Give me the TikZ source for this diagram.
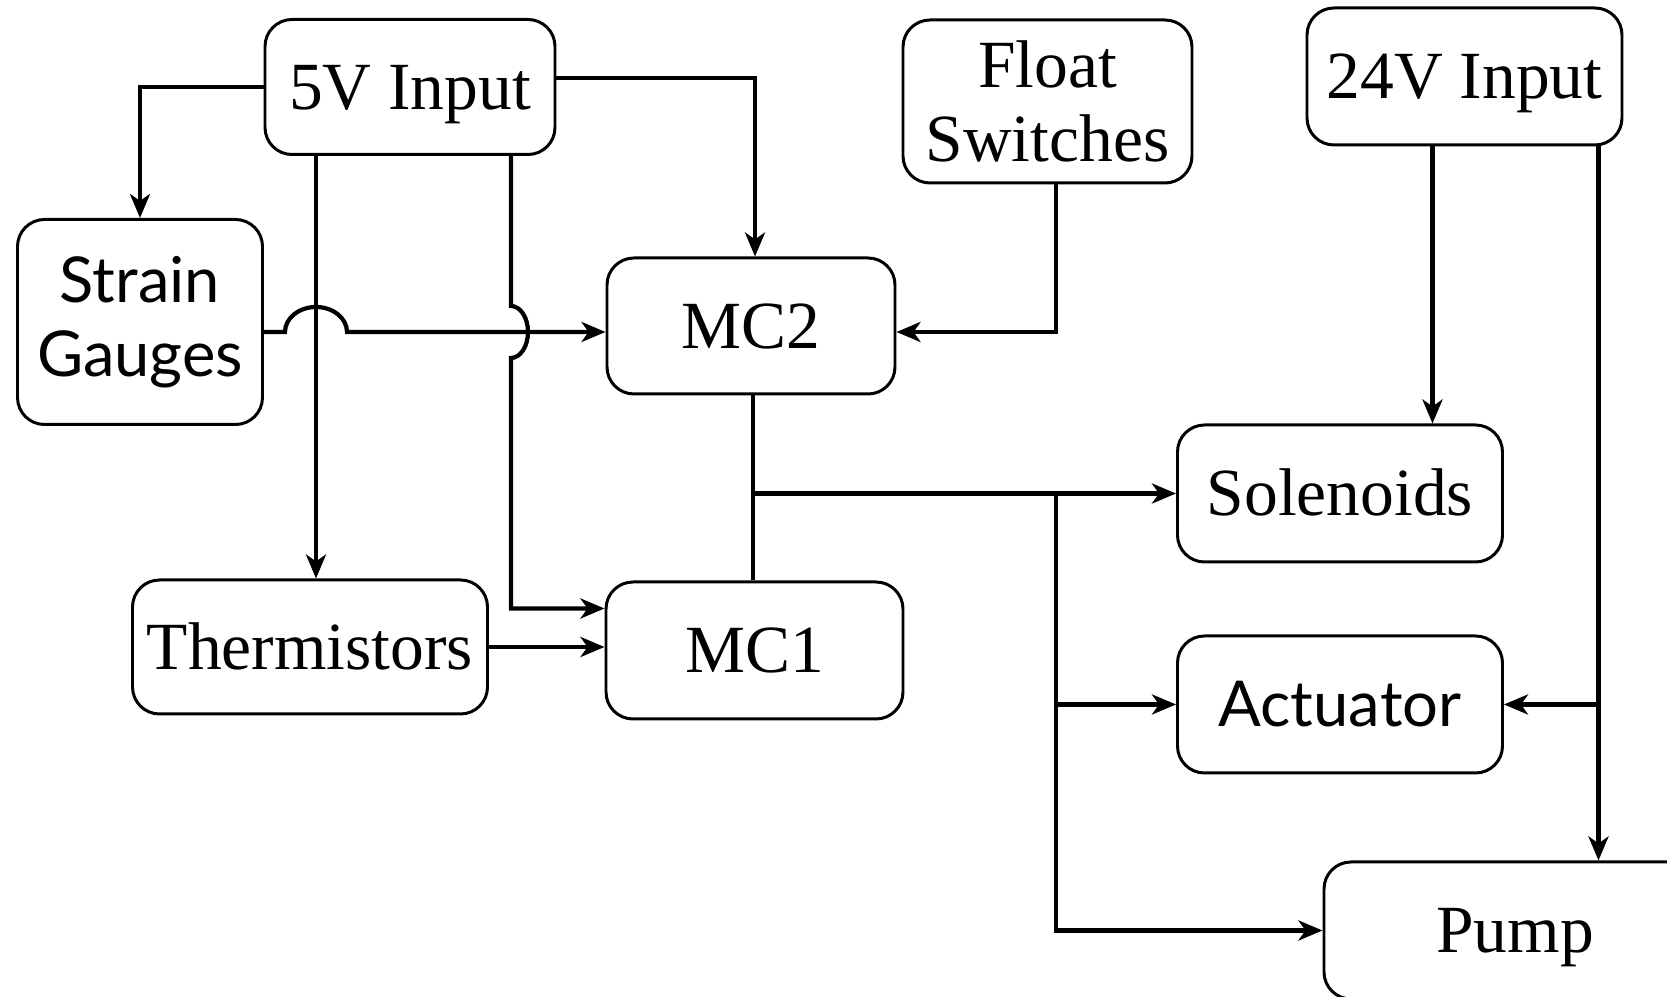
\documentclass[tikz,border=0pt]{standalone}
\usepackage{fontspec}
\setmainfont{Liberation Serif}
\newfontfamily\hsans{Lato}
\usetikzlibrary{arrows.meta}

\begin{document}
\begin{tikzpicture}[font=\fontsize{19.2}{21}\selectfont, >={Stealth[length=0.24cm, width=0.2cm, inset=0.07cm]},
  blk/.style={draw, line width=0.85pt, rounded corners=0.27cm, inner sep=0pt, align=center},
  one/.style={text height=0.45cm, text depth=0pt},
  gill/.style={font=\hsans\fontsize{18}{21}\selectfont},
  wire/.style={line width=1.2pt}]
  \useasboundingbox (0,0) rectangle (16.67,-9.97);
  \clip (0,0) rectangle (16.67,-9.97);
  \node[blk, one, minimum width=2.90cm, minimum height=1.35cm] (in5) at (4.10,-0.87) {5V Input};
  \node[blk, gill, minimum width=2.45cm, minimum height=2.05cm] (sg) at (1.40,-3.22) {Strain\\Gauges};
  \node[blk, one, minimum width=2.88cm, minimum height=1.36cm] (mc2) at (7.51,-3.26) {MC2};
  \node[blk, minimum width=2.89cm, minimum height=1.63cm] (fs) at (10.475,-1.015) {Float\\Switches};
  \node[blk, one, minimum width=3.15cm, minimum height=1.37cm] (in24) at (14.645,-0.765) {24V Input};
  \node[blk, one, minimum width=3.25cm, minimum height=1.37cm] (sol) at (13.40,-4.935) {Solenoids};
  \node[blk, one, minimum width=3.55cm, minimum height=1.34cm] (therm) at (3.10,-6.47) {Thermistors};
  \node[blk, one, minimum width=2.97cm, minimum height=1.37cm] (mc1) at (7.545,-6.505) {MC1};
  \node[blk, one, gill, minimum width=3.25cm, minimum height=1.37cm] (act) at (13.40,-7.045) {Actuator};
  \node[blk, one, minimum width=3.82cm, minimum height=1.37cm] (pump) at (15.15,-9.305) {Pump};
  \draw[wire, ->] (in5.west) -| (sg.north);
  \draw[wire, ->] ([yshift=0.09cm]in5.east) -| ([xshift=0.04cm]mc2.north);
  \draw[wire, ->] ([xshift=-0.94cm]in5.south) -- ([xshift=0.06cm]therm.north);
  \draw[wire, ->] ([xshift=1.01cm]in5.south) -- (5.11,-3.06)
    arc[start angle=90, end angle=-90, x radius=0.17, y radius=0.26] |- ([yshift=0.42cm]mc1.west);
  \draw[wire, ->] ([yshift=-0.10cm]sg.east) -- (2.85,-3.32)
    arc[start angle=180, end angle=0, x radius=0.31, y radius=0.25] -- ([yshift=-0.06cm]mc2.west);
  \draw[wire, ->] (therm.east) -- (therm.east -| mc1.west);
  \draw[wire, ->] ([xshift=0.085cm]fs.south) |- ([yshift=-0.06cm]mc2.east);
  \draw[wire] ([xshift=0.02cm]mc2.south) -- ([xshift=0.02cm]mc2.south |- mc1.north);
  \coordinate (jn) at ([xshift=0.02cm]mc2.south |- sol.west);
  \coordinate (br) at ([xshift=0.085cm]fs.south |- sol.west);
  \draw[wire, ->] (jn) -- (sol.west);
  \draw[wire, ->] (br) |- (pump.west);
  \draw[wire, ->] (br |- act.west) -- (act.west);
  \draw[wire, ->] ([xshift=-0.32cm]in24.south) -- ([xshift=-0.32cm]in24.south |- sol.north);
  \draw[wire, ->] ([xshift=1.34cm]in24.south) -- ([xshift=1.34cm]in24.south |- pump.north);
  \draw[wire, ->] ([xshift=1.34cm]in24.south |- act.east) -- (act.east);
\end{tikzpicture}
\end{document}
